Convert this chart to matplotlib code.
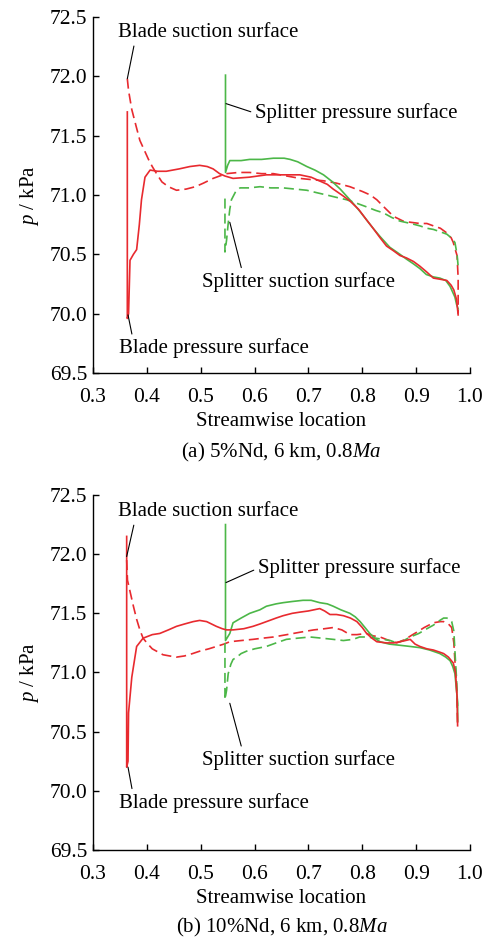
import matplotlib
matplotlib.use("Agg")
import matplotlib.pyplot as plt

plt.rcParams['font.family'] = ['Liberation Serif', 'DejaVu Serif']
plt.rcParams['mathtext.fontset'] = 'custom'
plt.rcParams['mathtext.rm'] = 'Liberation Serif'
plt.rcParams['mathtext.it'] = 'Liberation Serif:italic'

RED = '#e82a2f'
GREEN = '#4cb748'

# ---------------- Panel (a) data ----------------
a_bp_x = [0.3637, 0.3637, 0.366, 0.3687, 0.375, 0.381, 0.386, 0.390, 0.3965, 0.406, 0.42, 0.436,
          0.46, 0.48, 0.498, 0.512, 0.523, 0.535, 0.545, 0.56, 0.59, 0.622, 0.655, 0.684, 0.705,
          0.72, 0.735, 0.746, 0.762, 0.777, 0.793, 0.808, 0.82, 0.833, 0.845, 0.858, 0.87, 0.882,
          0.895, 0.907, 0.92, 0.932, 0.945, 0.957, 0.965, 0.97, 0.975, 0.978]
a_bp_y = [71.70, 69.96, 70.0, 70.45, 70.50, 70.54, 70.75, 70.96, 71.15, 71.21, 71.20, 71.20,
          71.22, 71.24, 71.25, 71.24, 71.22, 71.18, 71.16, 71.14, 71.15, 71.17, 71.17, 71.17, 71.15,
          71.12, 71.09, 71.05, 71.0, 70.95, 70.88, 70.79, 70.72, 70.64, 70.57, 70.53, 70.49, 70.47,
          70.44, 70.40, 70.35, 70.30, 70.29, 70.28, 70.24, 70.20, 70.12, 69.99]

a_bs_x = [0.3637, 0.366, 0.369, 0.372, 0.38, 0.387, 0.395, 0.403, 0.41, 0.418, 0.428, 0.44,
          0.455, 0.473, 0.49, 0.505, 0.523, 0.535, 0.548, 0.57, 0.591, 0.613, 0.635, 0.66, 0.684,
          0.705, 0.728, 0.752, 0.777, 0.8, 0.815, 0.827, 0.84, 0.858, 0.876, 0.89, 0.907, 0.92,
          0.932, 0.945, 0.957, 0.965, 0.969, 0.972, 0.976, 0.978, 0.978]
a_bs_y = [71.98, 71.88, 71.80, 71.72, 71.58, 71.46, 71.38, 71.30, 71.24, 71.18, 71.11, 71.07,
          71.04, 71.05, 71.07, 71.10, 71.14, 71.16, 71.18, 71.19, 71.19, 71.18, 71.18, 71.16, 71.14,
          71.13, 71.12, 71.10, 71.07, 71.03, 71.0, 70.96, 70.9, 70.82, 70.78, 70.77, 70.76, 70.76,
          70.74, 70.72, 70.68, 70.64, 70.60, 70.55, 70.49, 70.30, 70.0]

a_sp_x = [0.546, 0.546, 0.55, 0.554, 0.56, 0.575, 0.591, 0.613, 0.635, 0.655, 0.666, 0.68,
          0.697, 0.712, 0.728, 0.745, 0.759, 0.771, 0.783, 0.796, 0.808, 0.82, 0.833, 0.851, 0.87,
          0.882, 0.895, 0.907, 0.919, 0.932, 0.944, 0.955, 0.963, 0.968, 0.972, 0.975, 0.978]
a_sp_y = [72.01, 71.19, 71.25, 71.29, 71.29, 71.29, 71.30, 71.30, 71.31, 71.31, 71.30, 71.28,
          71.24, 71.21, 71.17, 71.11, 71.05, 70.99, 70.93, 70.86, 70.79, 70.72, 70.65, 70.56, 70.50,
          70.46, 70.42, 70.38, 70.33, 70.31, 70.30, 70.28, 70.23, 70.18, 70.14, 70.08, 70.04]

a_ss_x = [0.545, 0.545, 0.548, 0.551, 0.554, 0.557, 0.565, 0.573, 0.59, 0.61, 0.63, 0.653, 0.675,
          0.697, 0.715, 0.734, 0.752, 0.771, 0.79, 0.808, 0.825, 0.839, 0.855, 0.87, 0.89, 0.907,
          0.92, 0.932, 0.945, 0.957, 0.965, 0.972, 0.976, 0.978]
a_ss_y = [70.97, 70.52, 70.62, 70.76, 70.88, 70.96, 71.03, 71.06, 71.06, 71.07, 71.06, 71.06, 71.05,
          71.04, 71.02, 71.0, 70.98, 70.96, 70.93, 70.9, 70.87, 70.85, 70.81, 70.78, 70.76, 70.74,
          70.72, 70.71, 70.69, 70.67, 70.64, 70.60, 70.50, 70.40]

# ---------------- Panel (b) data ----------------
b_bp_x = [0.3625, 0.3625, 0.365, 0.366, 0.372, 0.381, 0.393, 0.41, 0.424, 0.44, 0.455, 0.47,
          0.486, 0.498, 0.511, 0.52, 0.529, 0.54, 0.548, 0.56, 0.58, 0.597, 0.61, 0.622, 0.64,
          0.653, 0.67, 0.684, 0.7, 0.721, 0.73, 0.74, 0.752, 0.765, 0.778, 0.79, 0.8, 0.808,
          0.818, 0.827, 0.845, 0.858, 0.87, 0.88, 0.889, 0.898, 0.907, 0.92, 0.932, 0.945, 0.951,
          0.96, 0.969, 0.973, 0.976, 0.977]
b_bp_y = [72.15, 70.20, 70.25, 70.66, 70.96, 71.22, 71.29, 71.32, 71.33, 71.36, 71.39, 71.41,
          71.43, 71.44, 71.43, 71.41, 71.39, 71.37, 71.36, 71.36, 71.37, 71.39, 71.41, 71.43, 71.46,
          71.48, 71.50, 71.51, 71.52, 71.54, 71.52, 71.49, 71.49, 71.48, 71.46, 71.43, 71.38, 71.33,
          71.29, 71.26, 71.25, 71.25, 71.26, 71.27, 71.28, 71.24, 71.22, 71.20, 71.19, 71.17, 71.16,
          71.13, 71.08, 71.0, 70.8, 70.55]

b_bs_x = [0.3625, 0.364, 0.368, 0.375, 0.381, 0.387, 0.393, 0.4, 0.41, 0.418, 0.43, 0.442,
          0.455, 0.47, 0.485, 0.498, 0.515, 0.529, 0.543, 0.554, 0.575, 0.597, 0.615, 0.635, 0.66,
          0.684, 0.71, 0.73, 0.746, 0.762, 0.777, 0.79, 0.808, 0.82, 0.833, 0.85, 0.864, 0.88,
          0.89, 0.901, 0.915, 0.932, 0.945, 0.951, 0.96, 0.966, 0.97, 0.972, 0.975, 0.977]
b_bs_y = [71.95, 71.78, 71.70, 71.56, 71.45, 71.36, 71.29, 71.25, 71.20, 71.18, 71.15, 71.14,
          71.13, 71.14, 71.16, 71.18, 71.20, 71.22, 71.24, 71.26, 71.27, 71.28, 71.29, 71.30, 71.32,
          71.34, 71.36, 71.37, 71.38, 71.36, 71.32, 71.32, 71.33, 71.31, 71.30, 71.27, 71.25, 71.28,
          71.31, 71.34, 71.38, 71.42, 71.43, 71.43, 71.41, 71.38, 71.25, 71.10, 70.90, 70.57]

b_sp_x = [0.546, 0.546, 0.55, 0.554, 0.56, 0.575, 0.591, 0.61, 0.622, 0.64, 0.653, 0.67, 0.69,
          0.705, 0.721, 0.735, 0.746, 0.76, 0.777, 0.787, 0.796, 0.805, 0.814, 0.823, 0.833, 0.85,
          0.87, 0.889, 0.907, 0.925, 0.944, 0.955, 0.963, 0.968, 0.972, 0.975, 0.977, 0.977]
b_sp_y = [72.25, 71.27, 71.30, 71.33, 71.42, 71.46, 71.50, 71.53, 71.56, 71.58, 71.59, 71.60, 71.61,
          71.61, 71.59, 71.58, 71.56, 71.53, 71.50, 71.47, 71.43, 71.38, 71.33, 71.29, 71.26, 71.24,
          71.23, 71.22, 71.21, 71.19, 71.16, 71.13, 71.10, 71.05, 70.99, 70.85, 70.74, 70.59]

b_ss_x = [0.545, 0.545, 0.548, 0.551, 0.556, 0.56, 0.567, 0.575, 0.585, 0.6, 0.622, 0.64, 0.659,
          0.68, 0.703, 0.725, 0.746, 0.765, 0.783, 0.795, 0.808, 0.825, 0.839, 0.852, 0.864, 0.877,
          0.889, 0.905, 0.92, 0.932, 0.944, 0.951, 0.957, 0.962, 0.966, 0.97, 0.973, 0.975, 0.977]
b_ss_y = [71.25, 70.77, 70.85, 70.99, 71.07, 71.11, 71.13, 71.16, 71.18, 71.20, 71.22, 71.25, 71.28,
          71.29, 71.30, 71.29, 71.28, 71.27, 71.28, 71.30, 71.30, 71.29, 71.28, 71.27, 71.25, 71.27,
          71.30, 71.33, 71.37, 71.40, 71.44, 71.46, 71.46, 71.45, 71.43, 71.35, 71.10, 70.95, 70.70]

x_ticks = [0.3, 0.4, 0.5, 0.6, 0.7, 0.8, 0.9, 1.0]
y_ticks = [69.5, 70.0, 70.5, 71.0, 71.5, 72.0, 72.5]
captions = ['(a) 5%Nd, 6 km, 0.8$Ma$', '(b) 10%Nd, 6 km, 0.8$Ma$']
caption_y = [-0.222, -0.217]
labels = ['Blade suction surface', 'Splitter pressure surface',
          'Splitter suction surface', 'Blade pressure surface']

FS = 15
TFS = 15.5

fig = plt.figure(figsize=(4.88, 9.38), dpi=100)
ax_a = fig.add_axes([0.1906, 0.6023, 0.7725, 0.3796])
ax_b = fig.add_axes([0.1906, 0.0938, 0.7725, 0.3785])

panels = [
    (ax_a, (a_bp_x, a_bp_y), (a_bs_x, a_bs_y), (a_sp_x, a_sp_y), (a_ss_x, a_ss_y),
     [((0.346, 72.37), (0.3637, 71.98), (0.094, 0.0)),
      ((0.6006, 71.69), (0.547, 71.77), (0.0, 0.5)),
      ((0.502, 70.27), (0.554, 70.77), (0.21, 1.0)),
      ((0.348, 69.71), (0.365, 69.99), (0.073, 1.0))]),
    (ax_b, (b_bp_x, b_bp_y), (b_bs_x, b_bs_y), (b_sp_x, b_sp_y), (b_ss_x, b_ss_y),
     [((0.346, 72.36), (0.3625, 71.98), (0.094, 0.0)),
      ((0.606, 71.88), (0.547, 71.76), (0.0, 0.5)),
      ((0.502, 70.26), (0.554, 70.74), (0.21, 1.0)),
      ((0.348, 69.90), (0.365, 70.20), (0.073, 1.0))]),
]

for i, (ax, bp, bs, sp, ss, ann) in enumerate(panels):
    ax.plot(*bs, color=RED, lw=1.2, ls=(0, (6, 3)))
    ax.plot(*ss, color=GREEN, lw=1.2, ls=(0, (6, 3)))
    ax.plot(*sp, color=GREEN, lw=1.2)
    ax.plot(*bp, color=RED, lw=1.2)
    ax.set_xlim(0.3, 1.0)
    ax.set_ylim(69.5, 72.5)
    ax.set_xticks(x_ticks)
    ax.set_yticks(y_ticks)
    ax.set_xticklabels([f'{t:.1f}' for t in x_ticks])
    ax.set_yticklabels([f'{t:.1f}' for t in y_ticks])
    ax.spines['top'].set_visible(False)
    ax.spines['right'].set_visible(False)
    for s in ('left', 'bottom'):
        ax.spines[s].set_linewidth(1.0)
    ax.tick_params(direction='in', length=4, width=1.0, labelsize=TFS)
    ax.tick_params(axis='y', pad=4)
    ax.tick_params(axis='x', pad=10.5)
    ax.set_xlabel('Streamwise location', fontsize=FS, labelpad=4)
    ax.set_ylabel('$p$ / kPa', fontsize=FS, labelpad=6)
    ax.text(0.5, caption_y[i], captions[i], transform=ax.transAxes, ha='center', va='center',
            fontsize=FS)
    for lab, (tpos, pt, rp) in zip(labels, ann):
        ax.annotate(lab, xy=pt, xytext=tpos, ha='left', va='center', fontsize=FS,
                    arrowprops=dict(arrowstyle='-', color='black', lw=0.8, relpos=rp,
                                    shrinkA=1, shrinkB=0))

fig.savefig('out.png', dpi=100)
